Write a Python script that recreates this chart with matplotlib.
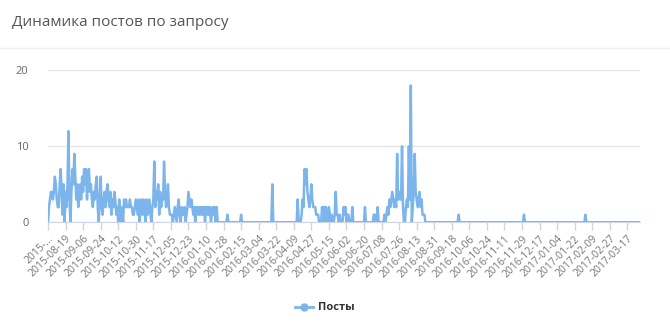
import matplotlib
matplotlib.use("Agg")
import matplotlib.pyplot as plt
from matplotlib.lines import Line2D
import numpy as np
import pandas as pd

title = "Динамика постов по запросу"
series_name = "Посты"
start_date = "2015-08-01"

# daily post counts, one list per month
aug_2015 = [0, 2, 3, 4, 4, 3, 4, 6, 5, 3, 2, 2, 5, 7, 4, 1, 5, 0, 4, 2, 5, 12, 3, 0, 4, 7, 5, 9, 6, 3, 5]
sep_2015 = [2, 4, 5, 3, 6, 4, 7, 5, 7, 3, 6, 7, 4, 5, 3, 2, 4, 3, 5, 6, 2, 0, 3, 6, 2, 1, 3, 4, 2, 4]
oct_2015 = [5, 3, 2, 4, 1, 3, 2, 4, 3, 1, 2, 0, 3, 1, 0, 2, 0, 3, 2, 3, 2, 2, 2, 3, 2, 2, 1, 1, 2, 3, 2]
nov_2015 = [1, 3, 0, 2, 3, 1, 3, 2, 0, 3, 1, 2, 3, 1, 0, 2, 3, 8, 2, 4, 3, 5, 1, 4, 2, 3, 3, 8, 4, 2]
dec_2015 = [3, 5, 2, 1, 1, 1, 0, 1, 2, 1, 0, 2, 3, 1, 0, 2, 1, 1, 2, 0, 1, 2, 4, 3, 2, 3, 2, 1, 2, 0, 2]
jan_2016 = [1, 2, 1, 2, 1, 2, 1, 2, 0, 2, 1, 2, 1, 2, 0, 1, 2, 1, 2, 0, 2, 0, 0, 0, 0, 0, 0, 0, 0, 0, 0]
feb_2016 = [1, 0, 0, 0, 0, 0, 0, 0, 0, 0, 0, 0, 0, 0, 1, 0, 0, 0, 0, 0, 0, 0, 0, 0, 0, 0, 0, 0, 0]
mar_2016 = [0, 0, 0, 0, 0, 0, 0, 0, 0, 0, 0, 0, 0, 0, 0, 0, 0, 5, 0, 0, 0, 0, 0, 0, 0, 0, 0, 0, 0, 0, 0]
apr_2016 = [0, 0, 0, 0, 0, 0, 0, 0, 0, 0, 0, 0, 3, 0, 0, 0, 1, 3, 2, 7, 5, 7, 4, 3, 2, 3, 5, 3, 2, 2]
may_2016 = [2, 1, 1, 1, 0, 0, 0, 2, 0, 2, 0, 2, 1, 0, 2, 1, 0, 1, 0, 0, 1, 4, 1, 1, 0, 1, 0, 0, 0, 2, 1]
jun_2016 = [2, 0, 1, 1, 0, 0, 0, 2, 0, 0, 0, 0, 0, 0, 0, 0, 0, 0, 0, 0, 2, 0, 0, 0, 0, 0, 0, 0, 0, 1]
jul_2016 = [1, 0, 0, 2, 0, 0, 0, 0, 0, 0, 1, 0, 1, 2, 1, 3, 2, 3, 4, 3, 2, 3, 2, 9, 3, 4, 3, 3, 10, 2, 0]
aug_2016 = [0, 2, 3, 2, 10, 3, 18, 0, 2, 4, 9, 4, 3, 2, 3, 4, 2, 3, 1, 1, 1, 0, 0, 0, 0, 0, 0, 0, 0, 0, 0]
sep_2016 = [0, 0, 0, 0, 0, 0, 0, 0, 0, 0, 0, 0, 0, 0, 0, 0, 0, 0, 0, 0, 0, 0, 0, 0, 1, 0, 0, 0, 0, 0]
oct_2016 = [0, 0, 0, 0, 0, 0, 0, 0, 0, 0, 0, 0, 0, 0, 0, 0, 0, 0, 0, 0, 0, 0, 0, 0, 0, 0, 0, 0, 0, 0, 0]
nov_2016 = [0, 0, 0, 0, 0, 0, 0, 0, 0, 0, 0, 0, 0, 0, 0, 0, 0, 0, 0, 0, 0, 0, 0, 0, 0, 0, 0, 0, 0, 0]
dec_2016 = [1, 0, 0, 0, 0, 0, 0, 0, 0, 0, 0, 0, 0, 0, 0, 0, 0, 0, 0, 0, 0, 0, 0, 0, 0, 0, 0, 0, 0, 0, 0]
jan_2017 = [0, 0, 0, 0, 0, 0, 0, 0, 0, 0, 0, 0, 0, 0, 0, 0, 0, 0, 0, 0, 0, 0, 0, 0, 0, 0, 0, 0, 0, 0, 0]
feb_2017 = [0, 1, 0, 0, 0, 0, 0, 0, 0, 0, 0, 0, 0, 0, 0, 0, 0, 0, 0, 0, 0, 0, 0, 0, 0, 0, 0, 0]
mar_2017 = [0, 0, 0, 0, 0, 0, 0, 0, 0, 0, 0, 0, 0, 0, 0, 0, 0, 0, 0, 0, 0, 0, 0, 0, 0, 0, 0, 0, 0, 0]

months = [aug_2015, sep_2015, oct_2015, nov_2015, dec_2015, jan_2016, feb_2016,
          mar_2016, apr_2016, may_2016, jun_2016, jul_2016, aug_2016, sep_2016,
          oct_2016, nov_2016, dec_2016, jan_2017, feb_2017, mar_2017]
posts = np.array([v for m in months for v in m])
dates = pd.date_range(start_date, periods=len(posts), freq="D")
tick_step = 18
y_ticks = [0, 10, 20]

line_color = "#7cb5ec"
plt.rcParams["font.family"] = ["Open Sans", "DejaVu Sans"]

fig = plt.figure(figsize=(6.7, 3.24), dpi=100)
ax = fig.add_axes([48 / 670, 1 - 222.3 / 324, 592 / 670, 152 / 324])

x = np.arange(len(posts))
ax.plot(x, posts, color=line_color, lw=1.8, solid_joinstyle="round", zorder=3)

ax.set_xlim(0, len(posts) - 1)
ax.set_ylim(0, 20)
ax.set_yticks(y_ticks)
ax.set_yticklabels([str(v) for v in y_ticks], color="#666666", fontsize=8)
ax.tick_params(axis="y", length=0, pad=14)
ax.grid(axis="y", color="#e6e6e6", lw=1, zorder=0)

tick_pos = x[::tick_step]
labels = [d.strftime("%Y-%m-%d") for d in dates[::tick_step]]
labels[0] = "2015-…"
ax.set_xticks(tick_pos)
ax.set_xticklabels(labels, rotation=45, ha="right", rotation_mode="anchor",
                   color="#777777", fontsize=7.5)
ax.tick_params(axis="x", length=6, color="#ccd6eb", width=1, pad=2)

for s in ["top", "right", "left"]:
    ax.spines[s].set_visible(False)
ax.spines["bottom"].set_color("#ccd6eb")

fig.text(12 / 670, 1 - 22 / 324, title, fontsize=11, color="#555555", va="center", ha="left")
fig.add_artist(Line2D([0, 1], [1 - 48 / 324, 1 - 48 / 324], color="#eeeeee", lw=1))

handle = Line2D([], [], color=line_color, lw=2, marker="o", markersize=5)
fig.legend([handle], [series_name], loc="center", bbox_to_anchor=(325 / 670, 1 - 308 / 324),
           frameon=False, prop={"size": 8, "weight": "bold"}, labelcolor="#333333",
           handlelength=1.6, handletextpad=0.5)

plt.savefig("out.png", dpi=100)
